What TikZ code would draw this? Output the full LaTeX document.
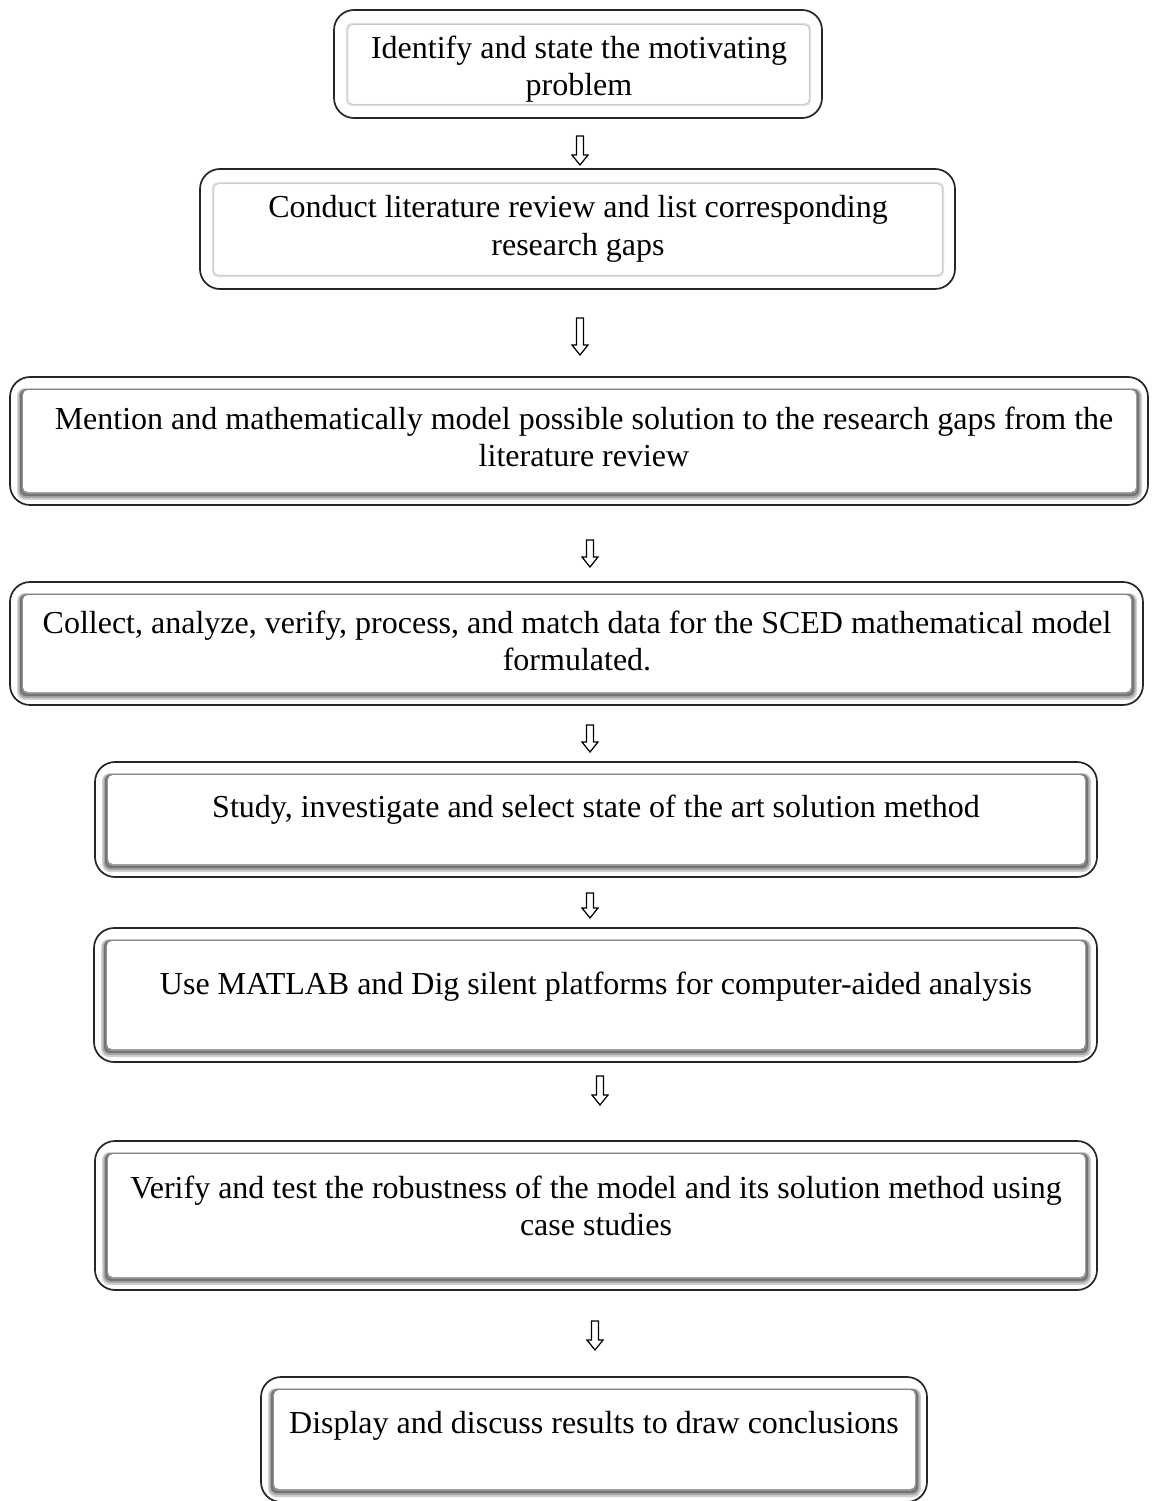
\documentclass[tikz,border=0pt]{standalone}
\usepackage{fontspec}
\setmainfont{Liberation Serif}
\usetikzlibrary{calc}

\tikzset{
  x=1pt, y=-1pt,
  outerbox/.style={draw=black!85, line width=1.7pt, rounded corners=20pt, fill=white, inner sep=0pt},
  label text/.style={align=center, inner sep=0pt, font=\fontsize{32}{37.5}\selectfont},
  pics/hollowdown/.style={code={
    \draw[line width=1.2pt, fill=white, line join=miter]
      (-3.5,0) -- (3.5,0) -- (3.5,#1-10) -- (8,#1-10) -- (0,#1)
      -- (-8,#1-10) -- (-3.5,#1-10) -- cycle;}}
}

% A rounded stage box with a bevelled inner panel.
% #1 name, #2 x1, #3 y1, #4 x2, #5 y2, #6 bevel strength (0..1)
\newcommand{\stagebox}[6]{%
  \pgfmathsetmacro{\bxa}{#2+13}\pgfmathsetmacro{\bya}{#3+13}%
  \pgfmathsetmacro{\bxb}{#4-12}\pgfmathsetmacro{\byb}{#5-13}%
  \pgfmathtruncatemacro{\cA}{18*#6}%
  \pgfmathtruncatemacro{\cB}{35*#6}%
  \pgfmathtruncatemacro{\cC}{55*#6}%
  \pgfmathtruncatemacro{\cD}{42*#6}%
  \node[outerbox, minimum width={(#4-#2)*1pt}, minimum height={(#5-#3)*1pt}]
    (#1) at ({(#2+#4)/2},{(#3+#5)/2}) {};
  \fill[black!\cA!white, rounded corners=8pt] (\bxa-6,\bya-2) rectangle (\bxb+6,\byb+8);
  \fill[black!\cB!white, rounded corners=7pt] (\bxa-4.5,\bya-1.2) rectangle (\bxb+4.5,\byb+6);
  \fill[black!\cC!white, rounded corners=6pt] (\bxa-3,\bya-0.6) rectangle (\bxb+3,\byb+4);
  \fill[black!\cD!white, rounded corners=5pt] (\bxa-1.2,\bya-0.2) rectangle (\bxb+1.2,\byb+1.8);
  \fill[white, rounded corners=5pt] (\bxa,\bya) rectangle (\bxb,\byb);
}

% A flat stage box whose inner panel has only a faint grey rim.
\newcommand{\flatbox}[5]{%
  \pgfmathsetmacro{\bxa}{#2+13}\pgfmathsetmacro{\bya}{#3+14}%
  \pgfmathsetmacro{\bxb}{#4-12}\pgfmathsetmacro{\byb}{#5-13}%
  \node[outerbox, minimum width={(#4-#2)*1pt}, minimum height={(#5-#3)*1pt}]
    (#1) at ({(#2+#4)/2},{(#3+#5)/2}) {};
  \draw[black!12, line width=2.2pt, rounded corners=5pt] (\bxa,\bya) rectangle (\bxb,\byb);
  \draw[black!22, line width=0.7pt, rounded corners=5pt] (\bxa+0.6,\bya+0.6) rectangle (\bxb-0.6,\byb-0.6);
}

\begin{document}
\begin{tikzpicture}
\useasboundingbox (0,0) rectangle (1151,1501);
\clip (0,0) rectangle (1151,1501);
\fill[white] (0,0) rectangle (1151,1501);

% stage boxes
\flatbox{b1}{334}{10}{822}{118}
\flatbox{b2}{200}{169}{955}{289}
\stagebox{b3}{10}{377}{1148}{505}{1}
\stagebox{b4}{10}{582}{1143}{705}{1}
\stagebox{b5}{95}{762}{1097}{877}{1}
\stagebox{b6}{94}{928}{1097}{1062}{1}
\stagebox{b7}{95}{1141}{1097}{1290}{1}
\stagebox{b8}{261}{1377}{927}{1502}{1}

% texts
\node[label text] (t1) at (579,69) {Identify and state the motivating\\problem};
\node[label text] (t2) at (578,229) {Conduct literature review and list corresponding\\research gaps};
\node[label text] (t3) at (584,437) {Mention and mathematically model possible solution to the research gaps from the\\literature review};
\node[label text] (t4) at (577,641) {Collect, analyze, verify, process, and match data for the SCED mathematical model\\formulated.};
\node[label text] (t5) at (596,810) {Study, investigate and select state of the art solution method};
\node[label text] (t6) at (596,987) {Use MATLAB and Dig silent platforms for computer-aided analysis};
\node[label text] (t7) at (596,1206) {Verify and test the robustness of the model and its solution method using\\case studies};
\node[label text] (t8) at (594,1426) {Display and discuss results to draw conclusions};

% hollow down arrows between stages
\coordinate (a1) at (580,136);
\coordinate (a2) at (580,318);
\coordinate (a3) at (590,540);
\coordinate (a4) at (590,725);
\coordinate (a5) at (590,893);
\coordinate (a6) at (600,1076);
\coordinate (a7) at (595,1321);
\pic at (a1) {hollowdown=29};
\pic at (a2) {hollowdown=37};
\pic at (a3) {hollowdown=27};
\pic at (a4) {hollowdown=27};
\pic at (a5) {hollowdown=25};
\pic at (a6) {hollowdown=29};
\pic at (a7) {hollowdown=29};
\end{tikzpicture}
\end{document}
